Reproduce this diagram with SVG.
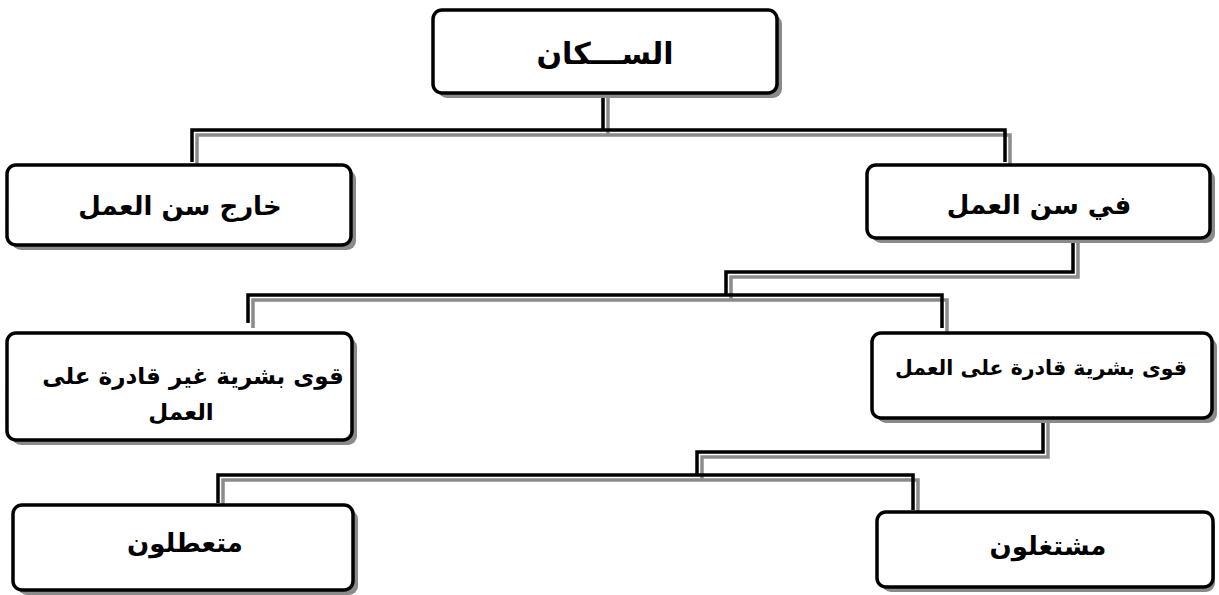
<svg xmlns="http://www.w3.org/2000/svg" width="1219" height="595" viewBox="0 0 1219 595">
<style>
.sh{fill:#8a8a8a;}
.bx{fill:#fff;stroke:#000;stroke-width:3.5;}
.cs{fill:none;stroke:#8c8c8c;stroke-width:3.5;}
.cb{fill:none;stroke:#000;stroke-width:3.5;}
text{font-family:"DejaVu Sans",sans-serif;font-weight:bold;fill:#000;text-anchor:middle;}
.t1{font-size:30px;}
.t2{font-size:26px;}
.t3{font-size:23px;}
.t4{font-size:20.5px;}
</style>
<rect width="1219" height="595" fill="#fff"/>
<g id="connectors">
<g transform="translate(5,5)">
<path class="cs" d="M603,93V130M192,162V130H1005V162"/>
<path class="cs" d="M1073,238V272H726V295M248,323V295H942V328"/>
<path class="cs" d="M1043,418V452H697V475M218,503V475H913V510"/>
</g>
<path class="cb" d="M603,93V130M192,162V130H1005V162"/>
<path class="cb" d="M1073,238V272H726V295M248,323V295H942V328"/>
<path class="cb" d="M1043,418V452H697V475M218,503V475H913V510"/>
</g>
<g id="n1">
<rect class="sh" x="438" y="15" width="344" height="83" rx="9"/>
<rect class="bx" x="433" y="10" width="344" height="83" rx="9"/>
<text class="t1" x="605" y="64">الســـكان</text>
</g>
<g id="n2">
<rect class="sh" x="12" y="170" width="344" height="80" rx="9"/>
<rect class="bx" x="7" y="165" width="344" height="80" rx="9"/>
<text class="t2" x="180" y="215">خارج سن العمل</text>
</g>
<g id="n3">
<rect class="sh" x="872" y="170" width="343" height="73" rx="9"/>
<rect class="bx" x="867" y="165" width="343" height="73" rx="9"/>
<text class="t2" x="1039" y="214">في سن العمل</text>
</g>
<g id="n4">
<rect class="sh" x="12" y="338" width="345" height="107" rx="9"/>
<rect class="bx" x="7" y="333" width="345" height="107" rx="9"/>
<text class="t3" x="193" y="384">قوى بشرية غير قادرة على</text>
<text class="t3" x="181" y="420">العمل</text>
</g>
<g id="n5">
<rect class="sh" x="877" y="338" width="340" height="85" rx="9"/>
<rect class="bx" x="872" y="333" width="340" height="85" rx="9"/>
<text class="t4" x="1041" y="375">قوى بشرية قادرة على العمل</text>
</g>
<g id="n6">
<rect class="sh" x="18" y="510" width="340" height="85" rx="9"/>
<rect class="bx" x="13" y="505" width="340" height="85" rx="9"/>
<text class="t2" x="185" y="552">متعطلون</text>
</g>
<g id="n7">
<rect class="sh" x="882" y="517" width="333" height="75" rx="9"/>
<rect class="bx" x="877" y="512" width="336" height="75" rx="9"/>
<text class="t2" x="1048" y="555">مشتغلون</text>
</g>
</svg>
